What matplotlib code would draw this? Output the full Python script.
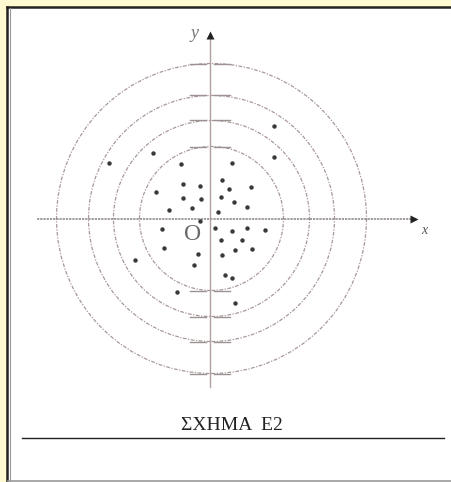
import matplotlib.pyplot as plt
from matplotlib.patches import Circle, Rectangle
from matplotlib.lines import Line2D

W, H = 451, 482

# scattered points, one unit = 10 px, origin at the axis cross
pts_x = [6.4, 6.4, -5.7, -10.1, -2.9, 2.2, 1.2, -2.7, -1.0, 4.1, 1.9, -5.4, -2.7,
         -0.9, 1.1, 2.4, 3.7, -1.8, -4.1, 0.8, -1.0, 0.5, -4.8, 2.2, 3.7, 5.5,
         1.1, 3.2, -4.6, 2.5, 4.2, -1.2, 1.2, -7.5, -1.6, 1.5, 2.2, -3.3, 2.5]
pts_y = [9.3, 6.2, 6.6, 5.6, 5.5, 5.6, 3.9, 3.5, 3.3, 3.2, 3.0, 2.7, 2.1,
         2.0, 2.2, 1.7, 1.2, 1.1, 0.9, 0.7, -0.2, -0.9, -1.0, -1.2, -0.9, -1.1,
         -2.1, -2.1, -2.9, -3.1, -3.0, -3.5, -3.6, -4.1, -4.6, -5.6, -5.9, -7.3, -8.4]
radii = [7.2, 9.8, 12.3, 15.5]

caption = "ΣΧΗΜΑ  Ε2"

fig = plt.figure(figsize=(W / 100, H / 100), dpi=100, facecolor='#fff9d2')

# white page with dark border on the left and top
fig.add_artist(Rectangle((8 / W, 0), 1, 1 - 7 / H, transform=fig.transFigure,
                         facecolor='white', edgecolor='none', zorder=0))
fig.add_artist(Line2D([7 / W, 1], [1 - 6.5 / H] * 2, transform=fig.transFigure,
                      color='#222222', lw=1.8))
fig.add_artist(Line2D([7.5 / W] * 2, [0, 1 - 6.5 / H], transform=fig.transFigure,
                      color='#222222', lw=1.8))
fig.add_artist(Line2D([9.5 / W] * 2, [0, 1 - 8 / H], transform=fig.transFigure,
                      color='#999999', lw=0.8))
fig.add_artist(Line2D([8 / W, 1], [1.5 / H] * 2, transform=fig.transFigure,
                      color='#999999', lw=1.2))

ax = fig.add_axes([0, 0, 1, 1])
ax.set_xlim(-21.0, 24.1)
ax.set_ylim(-26.3, 21.9)
ax.axis('off')

for r in radii:
    ax.add_patch(Circle((0.15, 0.05), r, fill=False, ec='#a99898', lw=0.9,
                        ls=(0, (3, 1.2, 1, 1.2))))
    # longer dashes where the circles cross the y axis
    for s in (1, -1):
        ax.plot([-2.0, -0.4], [s * r + 0.05] * 2, color='#9c9292', lw=1.0)
        ax.plot([0.4, 2.0], [s * r + 0.05] * 2, color='#9c9292', lw=1.0)

# axes
ax.plot([-17.3, 20.3], [0, 0], color='#8a8282', lw=1.1, ls=(0, (1.5, 0.6)))
ax.plot([0, 0], [-16.8, 18.3], color='#b0a0a0', lw=1.0)
ax.plot(20.4, 0, marker='>', ms=5.5, color='#222222', mec='none')
ax.plot(0, 18.4, marker='^', ms=5.5, color='#222222', mec='none')

ax.plot(pts_x, pts_y, 'o', ms=3.2, color='#3a3a3a', mec='none')

ax.text(-1.5, 18.6, 'y', family='Liberation Serif', style='italic', fontsize=13,
        color='#777777', ha='center', va='center')
ax.text(21.4, -1.2, 'x', family='Liberation Serif', style='italic', fontsize=10,
        color='#555555', ha='center', va='center')
ax.text(-1.7, -1.5, 'O', family='Liberation Serif', fontsize=17,
        color='#6a6a6a', ha='center', va='center')

ax.text(2.2, -20.7, caption, family='Liberation Serif', fontsize=14,
        color='#222222', ha='center', va='center')
ax.plot([-18.8, 23.4], [-21.9, -21.9], color='#222222', lw=1.0)

fig.savefig('out.png', dpi=100, facecolor=fig.get_facecolor())
